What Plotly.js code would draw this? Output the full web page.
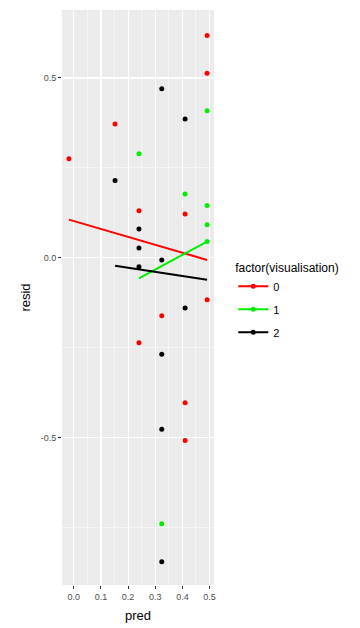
<!DOCTYPE html>
<html>
<head>
<meta charset="utf-8">
<script src="https://cdn.plot.ly/plotly-3.0.1.min.js"></script>
<style>html,body{margin:0;padding:0;background:#fff;}#chart{width:360px;height:628px;}</style>
</head>
<body>
<div id="chart"></div>
<script>
// Data
const groups = ["0", "1", "2"];
const groupColors = ["#FF0000", "#00EE00", "#000000"];

const pred0 = [-0.018, 0.152, 0.24, 0.24, 0.324, 0.41, 0.41, 0.41, 0.491, 0.491, 0.491];
const resid0 = [0.275, 0.372, 0.131, -0.236, -0.161, 0.122, -0.403, -0.508, 0.618, 0.513, -0.117];
const pred1 = [0.24, 0.41, 0.491, 0.491, 0.491, 0.491, 0.324];
const resid1 = [0.289, 0.177, 0.409, 0.145, 0.0915, 0.045, -0.740];
const pred2 = [0.152, 0.24, 0.24, 0.24, 0.324, 0.324, 0.324, 0.324, 0.324, 0.41, 0.41];
const resid2 = [0.215, 0.080, 0.027, -0.025, 0.470, -0.006, -0.268, -0.477, -0.845, 0.386, -0.140];

// fitted (lm) lines, endpoints
const fitX0 = [-0.018, 0.491];
const fitY0 = [0.106, -0.006];
const fitX1 = [0.24, 0.491];
const fitY1 = [-0.057, 0.045];
const fitX2 = [0.152, 0.491];
const fitY2 = [-0.022, -0.061];

const xTickVals = [0, 0.1, 0.2, 0.3, 0.4, 0.5];
const xTickText = ["0.0", "0.1", "0.2", "0.3", "0.4", "0.5"];
const yTickVals = [-0.5, 0, 0.5];
const yTickText = ["-0.5", "0.0", "0.5"];

const predSets = [pred0, pred1, pred2];
const residSets = [resid0, resid1, resid2];
const fitXs = [fitX0, fitX1, fitX2];
const fitYs = [fitY0, fitY1, fitY2];

const traces = [];
for (let i = 0; i < groups.length; i++) {
  traces.push({
    type: "scatter", mode: "markers", x: predSets[i], y: residSets[i],
    marker: {color: groupColors[i], size: 5}, showlegend: false,
    legendgroup: groups[i], hoverinfo: "skip"
  });
}
for (let i = 0; i < groups.length; i++) {
  traces.push({
    type: "scatter", mode: "lines", x: fitXs[i], y: fitYs[i],
    line: {color: groupColors[i], width: 2}, showlegend: false,
    legendgroup: groups[i], hoverinfo: "skip"
  });
}
for (let i = 0; i < groups.length; i++) {
  traces.push({
    type: "scatter", mode: "lines+markers", x: [null], y: [null],
    name: groups[i], legendgroup: groups[i],
    line: {color: groupColors[i], width: 2}, marker: {color: groupColors[i], size: 5}
  });
}

const layout = {
  width: 360, height: 628,
  margin: {l: 62, r: 146, t: 10, b: 43, pad: 0},
  paper_bgcolor: "#FFFFFF", plot_bgcolor: "#EBEBEB",
  font: {family: "Liberation Sans, Arial, sans-serif", color: "#000000"},
  showlegend: true,
  xaxis: {
    range: [-0.0435, 0.5165], zeroline: false,
    tickvals: xTickVals, ticktext: xTickText,
    ticks: "outside", ticklen: 3, tickcolor: "#333333", tickwidth: 1,
    tickfont: {size: 9, color: "#4D4D4D"},
    showgrid: true, gridcolor: "#FFFFFF", gridwidth: 1.1,
    minor: {dtick: 0.05, tick0: 0, showgrid: true, gridcolor: "#FFFFFF", gridwidth: 0.5, ticks: ""},
    showline: false, automargin: false,
    title: {text: "pred", font: {size: 13, color: "#000000"}, standoff: 10}
  },
  yaxis: {
    range: [-0.910, 0.689], zeroline: false,
    tickvals: yTickVals, ticktext: yTickText,
    ticks: "outside", ticklen: 3, tickcolor: "#333333", tickwidth: 1,
    tickfont: {size: 9, color: "#4D4D4D"},
    showgrid: true, gridcolor: "#FFFFFF", gridwidth: 1.1,
    minor: {dtick: 0.25, tick0: 0, showgrid: true, gridcolor: "#FFFFFF", gridwidth: 0.5, ticks: ""},
    showline: false, automargin: false,
    title: {text: "resid", font: {size: 13, color: "#000000"}, standoff: 7}
  },
  legend: {
    xref: "container", yref: "container", x: 0.648, y: 0.592,
    xanchor: "left", yanchor: "top",
    bgcolor: "rgba(0,0,0,0)", borderwidth: 0,
    font: {size: 11, color: "#000000"},
    title: {text: "factor(visualisation)", font: {size: 12, color: "#000000"}},
    itemwidth: 30, tracegroupgap: 4
  }
};

Plotly.newPlot("chart", traces, layout, {staticPlot: true, displayModeBar: false});
</script>
</body>
</html>
